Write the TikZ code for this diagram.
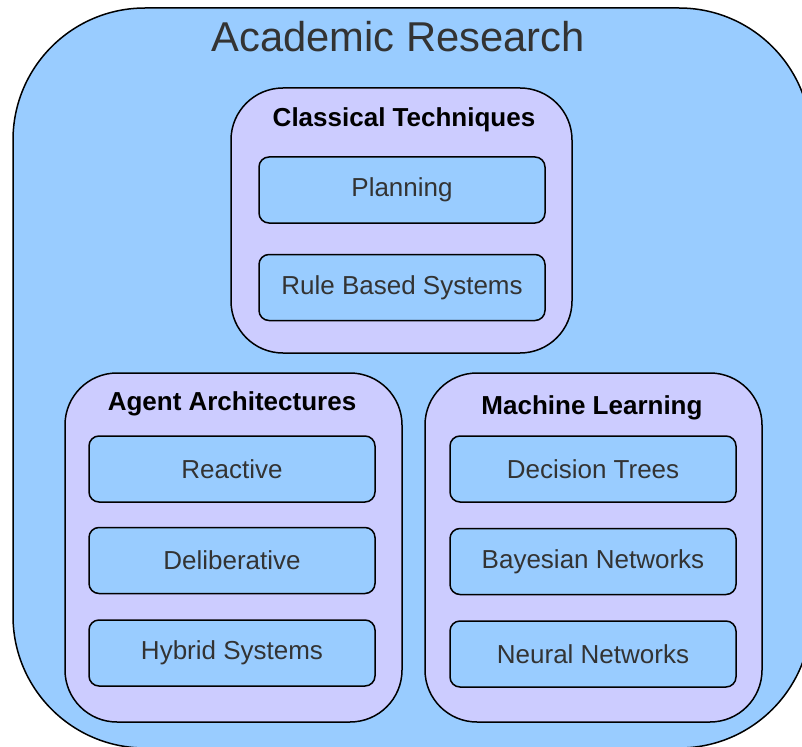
\documentclass[tikz,border=0pt]{standalone}
\usepackage{fontspec}
\setmainfont{Liberation Sans}
\usetikzlibrary{positioning}

\definecolor{skyfill}{RGB}{153,204,255}
\definecolor{lavfill}{RGB}{204,204,255}
\definecolor{textgray}{RGB}{51,51,51}

\tikzset{
  group/.style={draw=black, line width=1.5pt, fill=lavfill, rounded corners=52pt,
    minimum width=337pt, minimum height=349pt, inner sep=0pt},
  item/.style={draw=black, line width=1.5pt, fill=skyfill, rounded corners=10pt,
    minimum width=286pt, minimum height=66pt, inner sep=0pt, text=textgray,
    font=\fontsize{26}{31}\selectfont},
  grouptitle/.style={anchor=base, font=\bfseries\fontsize{26}{31}\selectfont}
}

\begin{document}
\begin{tikzpicture}[x=1pt, y=-1pt]

        % Page frame
        \clip (0,0) rectangle (802,746);

        % Outer box
        \draw[line width=1.5pt, fill=skyfill, rounded corners=132pt] (13,8) rectangle (811,748);
        \node[anchor=base, text=textgray, font=\fontsize{41.7}{50}\selectfont] (research) at (398,52) {Academic Research};

        % Groups
        \node[group, minimum width=341pt, minimum height=265pt] (classical) at (401.5,220.5) {};
        \node[group] (agents) at (233.5,547.5) {};
        \node[group] (learning) at (593.5,547.5) {};

        % Group titles
        \node[grouptitle] (classicaltitle) at (404,127) {Classical Techniques};
        \node[grouptitle] (agentstitle) at (232,410) {Agent Architectures};
        \node[grouptitle] (learningtitle) at (592,414) {Machine Learning};

        % Classical techniques
        \node[item] (planning) at (402,190) {Planning};
        \node[item, below=30pt of planning] (rules) {Rule Based Systems};

        % Agent architectures
        \node[item] (reactive) at (232,469) {Reactive};
        \node[item, below=24pt of reactive] (deliberative) {Deliberative};
        \node[item, below=25pt of deliberative] (hybrid) {Hybrid Systems};

        % Machine learning
        \node[item] (trees) at (593,469) {Decision Trees};
        \node[item, below=25pt of trees] (bayes) {Bayesian Networks};
        \node[item, below=25pt of bayes] (neural) {Neural Networks};

    \end{tikzpicture}
\end{document}
